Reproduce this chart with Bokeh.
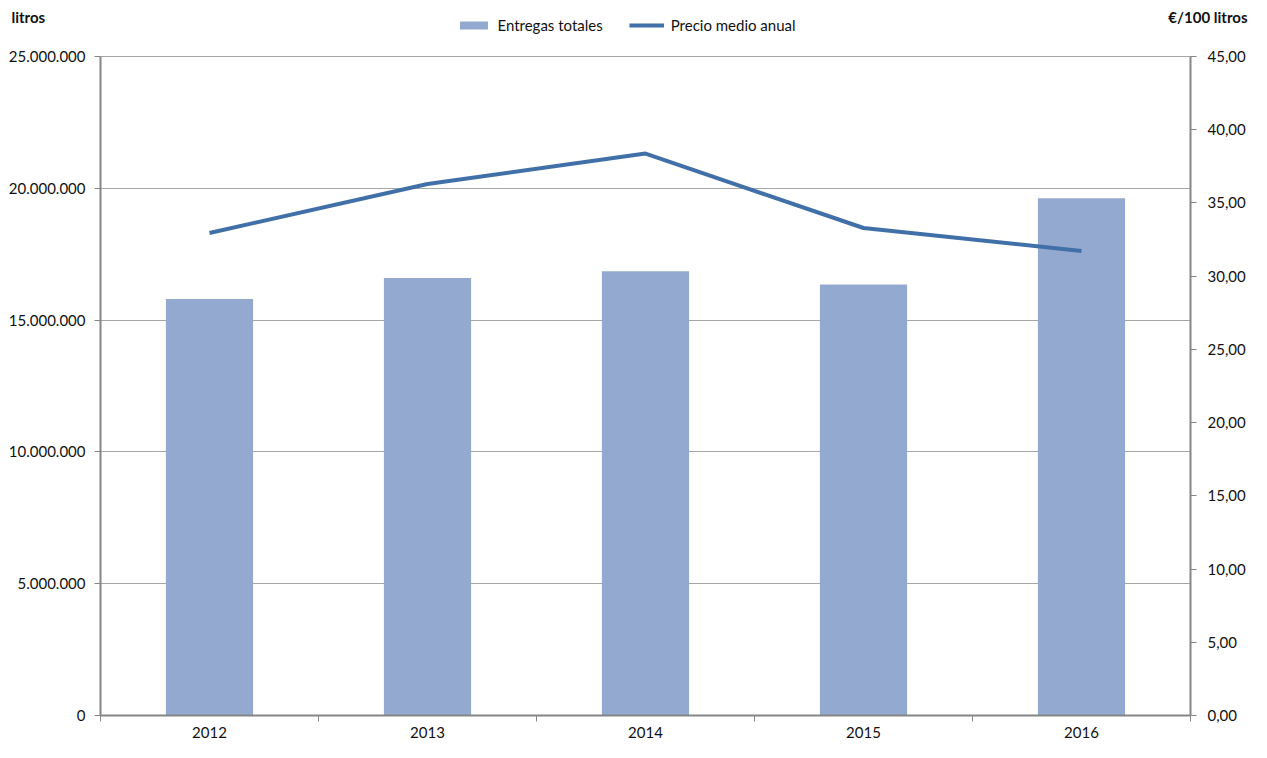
from bokeh.plotting import figure
from bokeh.models import (Range1d, LinearAxis, FixedTicker, Legend, LegendItem,
                          Label, ColumnDataSource, Grid)
from bokeh.embed import file_html
from bokeh.resources import INLINE

years = ["2012", "2013", "2014", "2015", "2016"]
entregas = [15800000, 16600000, 16850000, 16350000, 19620000]
precio = [32.95, 36.29, 38.37, 33.29, 31.72]
left_ticks = [0, 5000000, 10000000, 15000000, 20000000, 25000000]
left_labels = ["0", "5.000.000", "10.000.000", "15.000.000", "20.000.000", "25.000.000"]
right_ticks = [0, 5, 10, 15, 20, 25, 30, 35, 40, 45]
right_labels = ["0,00", "5,00", "10,00", "15,00", "20,00", "25,00", "30,00", "35,00", "40,00", "45,00"]

FONT = "Lato"
BAR = "#94a9cf"
LINE = "#4170a9"
AXIS = "#868686"
GRID = "#a6a6a6"
TXT = "#111111"

# canvas geometry (pixels)
W, H = 1251, 742
AX_L, AX_R = 100, 1190      # screen x of the left / right axes
AX_TOP, AX_BOT = 56, 715    # screen y of the axis maximum / zero
LMAX, RMAX = left_ticks[-1], right_ticks[-1]
n = len(years)

ppx = (AX_R - AX_L) / n
x_start = -AX_L / ppx
x_end = n + (W - AX_R) / ppx
ppy = (AX_BOT - AX_TOP) / LMAX
y_start = -(H - AX_BOT) / ppy
y_end = LMAX + AX_TOP / ppy
k = RMAX / LMAX

xc = [i + 0.5 for i in range(n)]
src = ColumnDataSource(dict(x=xc, entregas=entregas, precio=precio))

p = figure(width=W, height=H, output_backend="svg", toolbar_location=None,
           x_range=Range1d(x_start, x_end), y_range=Range1d(y_start, y_end),
           x_axis_location=None, y_axis_location=None, min_border=0)
p.center = []
p.outline_line_color = None
p.background_fill_color = "white"
p.border_fill_color = "white"
p.extra_y_ranges = {"precio": Range1d(y_start * k, y_end * k)}

# grid lines
if "cross_bounds" in Grid.properties():
    grid = Grid(dimension=1, ticker=FixedTicker(ticks=left_ticks), grid_line_color=GRID,
                grid_line_width=1, cross_bounds=(0, n))
    p.add_layout(grid)
else:
    p.segment(x0=[0] * len(left_ticks), x1=[n] * len(left_ticks), y0=left_ticks, y1=left_ticks,
              line_color=GRID, line_width=1)

bars = p.vbar(x="x", top="entregas", width=0.4, source=src, fill_color=BAR, line_color=None)
ln = p.line(x="x", y="precio", source=src, y_range_name="precio", line_color=LINE,
            line_width=4, line_join="round")

# x axis
xa = LinearAxis(fixed_location=0, bounds=(0, n),
                ticker=FixedTicker(ticks=xc, minor_ticks=list(range(n + 1))))
xa.major_label_overrides = {x: y for x, y in zip(xc, years)}
xa.major_tick_out = 0
xa.major_tick_in = 0
xa.minor_tick_out = 6
xa.minor_tick_in = 0
xa.minor_tick_line_color = AXIS
xa.axis_line_color = AXIS
xa.axis_line_width = 2
xa.major_label_standoff = 5
xa.major_label_text_font = FONT
xa.major_label_text_font_size = "15px"
xa.major_label_text_color = TXT
p.add_layout(xa, "below")

# left axis
ya = LinearAxis(fixed_location=0, bounds=(0, LMAX), ticker=FixedTicker(ticks=left_ticks))
ya.major_label_overrides = {t: l for t, l in zip(left_ticks, left_labels)}
ya.major_tick_out = 6
ya.major_tick_in = 0
ya.minor_tick_line_color = None
ya.axis_line_color = AXIS
ya.axis_line_width = 2
ya.major_tick_line_color = AXIS
ya.major_label_standoff = 9
ya.major_label_text_font = FONT
ya.major_label_text_font_size = "15px"
ya.major_label_text_color = TXT
p.add_layout(ya, "left")

# right axis
ra = LinearAxis(y_range_name="precio", fixed_location=n, bounds=(0, RMAX),
                ticker=FixedTicker(ticks=right_ticks))
ra.major_label_overrides = {t: l for t, l in zip(right_ticks, right_labels)}
ra.major_tick_out = 6
ra.major_tick_in = 0
ra.minor_tick_line_color = None
ra.axis_line_color = AXIS
ra.axis_line_width = 2
ra.major_tick_line_color = AXIS
ra.major_label_standoff = 11
ra.major_label_text_font = FONT
ra.major_label_text_font_size = "15px"
ra.major_label_text_color = TXT
p.add_layout(ra, "right")

legend = Legend(items=[LegendItem(label="Entregas totales", renderers=[bars]),
                       LegendItem(label="Precio medio anual", renderers=[ln])],
                orientation="horizontal", location="top_center",
                glyph_width=35, glyph_height=10, label_standoff=7, spacing=26,
                padding=0, margin=16, border_line_color=None, background_fill_alpha=0,
                label_text_font=FONT, label_text_font_size="15px", label_text_color=TXT)
p.add_layout(legend)

title_y = LMAX + (AX_TOP - 16) / ppy
p.add_layout(Label(x=(11 - AX_L) / ppx, y=title_y, text="litros", text_font=FONT,
                   text_font_size="15px", text_font_style="bold", text_color=TXT,
                   text_baseline="middle", text_align="left"))
p.add_layout(Label(x=n + (1247 - AX_R) / ppx, y=title_y, text="€/100 litros", text_font=FONT,
                   text_font_size="15px", text_font_style="bold", text_color=TXT,
                   text_baseline="middle", text_align="right"))

open("out.html", "w").write(file_html(p, INLINE))
